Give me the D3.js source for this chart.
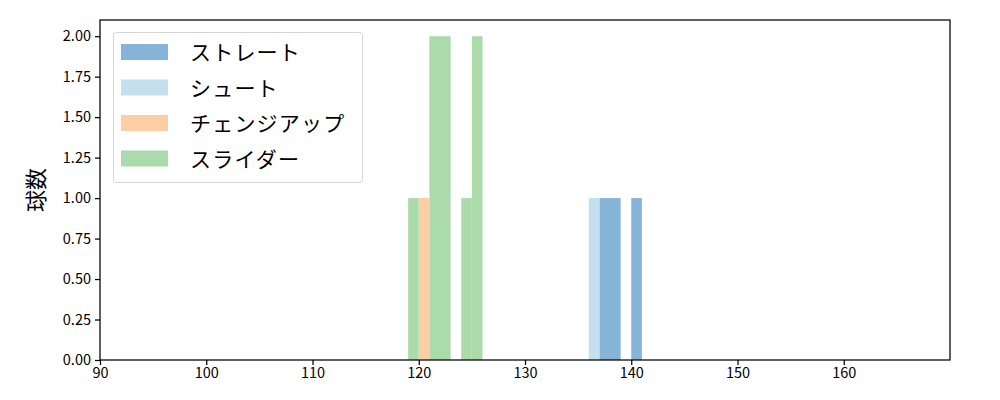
<!DOCTYPE html>
<html>
<head>
<meta charset="utf-8">
<script src="https://cdn.jsdelivr.net/npm/d3@7"></script>
<style>
  body { margin: 0; background: #fff; }
  svg { display: block; }
</style>
</head>
<body>
<script>
// pitch types, colours and histogram bins (bin start in km/h, width 1, count)
const pitchTypes = ["ストレート", "シュート", "チェンジアップ", "スライダー"];
const pitchColors = ["#85b4d8", "#c4e0ee", "#fdcda3", "#acdbab"];
const straightBins = [137, 138, 140];
const straightCounts = [1, 1, 1];
const shootBins = [136];
const shootCounts = [1];
const changeupBins = [120];
const changeupCounts = [1];
const sliderBins = [119, 121, 122, 124, 125];
const sliderCounts = [1, 2, 2, 1, 2];
const xTicks = [90, 100, 110, 120, 130, 140, 150, 160];
const yTicks = [0, 0.25, 0.5, 0.75, 1.0, 1.25, 1.5, 1.75, 2.0];
const binWidth = 1;

const FONT = "'Noto Sans CJK JP', 'Noto Sans', sans-serif";
const W = 1000, H = 400;
const M = { top: 20, right: 50, bottom: 40, left: 100 };
const IW = W - M.left - M.right;
const IH = H - M.top - M.bottom;

const svg = d3.select("body").append("svg").attr("width", W).attr("height", H);
const g = svg.append("g").attr("transform", `translate(${M.left},${M.top})`);

const x = d3.scaleLinear().domain([90, 170]).range([0, IW]);
const y = d3.scaleLinear().domain([0, 2.1]).range([IH, 0]);

const series = [
  { bins: straightBins, counts: straightCounts },
  { bins: shootBins, counts: shootCounts },
  { bins: changeupBins, counts: changeupCounts },
  { bins: sliderBins, counts: sliderCounts },
];

series.forEach((s, i) => {
  g.append("g")
    .selectAll("rect")
    .data(s.bins.map((b, j) => ({ b, c: s.counts[j] })))
    .join("rect")
    .attr("x", (d) => x(d.b))
    .attr("width", (d) => x(d.b + binWidth) - x(d.b))
    .attr("y", (d) => y(d.c))
    .attr("height", (d) => y(0) - y(d.c))
    .attr("fill", pitchColors[i]);
});

// axes
function styleAxis(sel) {
  sel.attr("font-family", FONT).attr("font-size", 14.5);
  sel.select(".domain").remove();
  sel.selectAll(".tick line").attr("stroke", "#000").attr("stroke-width", 1.25);
  sel.selectAll(".tick text").attr("fill", "#000");
}
g.append("g")
  .attr("transform", `translate(0,${IH})`)
  .call(d3.axisBottom(x).tickValues(xTicks).tickSizeOuter(0).tickSize(5).tickPadding(3))
  .call(styleAxis);
g.append("g")
  .call(d3.axisLeft(y).tickValues(yTicks).tickFormat(d3.format(".2f")).tickSizeOuter(0).tickSize(5).tickPadding(4))
  .call(styleAxis);

// frame
g.append("rect")
  .attr("width", IW).attr("height", IH)
  .attr("fill", "none").attr("stroke", "#000").attr("stroke-width", 1.25);

// y label
svg.append("text")
  .attr("transform", `translate(44,${M.top + IH / 2}) rotate(-90)`)
  .attr("text-anchor", "middle")
  .attr("font-family", FONT)
  .attr("font-size", 22)
  .text("球数");

// legend
const lg = svg.append("g").attr("transform", "translate(113,32)");
lg.append("rect")
  .attr("x", 0.5).attr("y", 0.5)
  .attr("width", 249).attr("height", 150).attr("rx", 3)
  .attr("fill", "#fff").attr("fill-opacity", 0.8)
  .attr("stroke", "#d5d5d5");
const rows = lg.selectAll("g.row")
  .data(pitchTypes)
  .join("g")
  .attr("class", "row")
  .attr("transform", (d, i) => `translate(8,${12 + i * 35.5})`);
rows.append("rect")
  .attr("width", 47).attr("height", 16)
  .attr("fill", (d, i) => pitchColors[i]);
rows.append("text")
  .attr("x", 69).attr("y", 16)
  .attr("font-family", FONT)
  .attr("font-size", 21)
  .attr("letter-spacing", 1.2)
  .text((d) => d);
</script>
</body>
</html>
